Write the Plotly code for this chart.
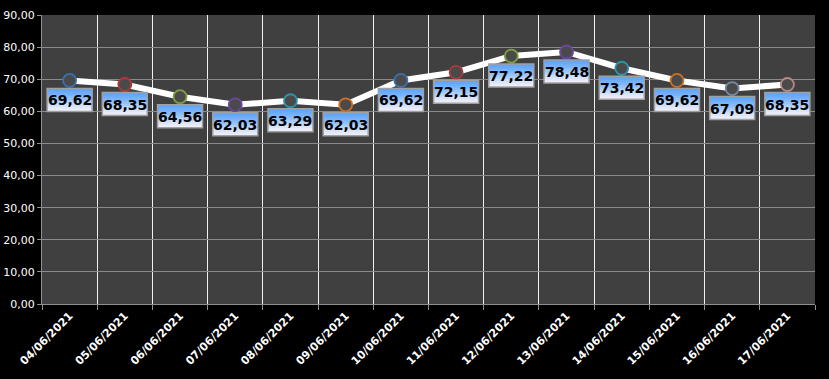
import plotly.graph_objects as go

dates = ["04/06/2021", "05/06/2021", "06/06/2021", "07/06/2021", "08/06/2021",
         "09/06/2021", "10/06/2021", "11/06/2021", "12/06/2021", "13/06/2021",
         "14/06/2021", "15/06/2021", "16/06/2021", "17/06/2021"]
values = [69.62, 68.35, 64.56, 62.03, 63.29, 62.03, 69.62, 72.15, 77.22, 78.48,
          73.42, 69.62, 67.09, 68.35]
marker_colors = ["#3a70b0", "#b03838", "#80a040", "#6a48a0", "#2c94aa", "#d07020",
                 "#3a70b0", "#b03838", "#80a040", "#6a48a0", "#2c94aa", "#d07020",
                 "#7888a8", "#b88888"]
y_ticks = [0, 10, 20, 30, 40, 50, 60, 70, 80, 90]

xs = list(range(len(dates)))

fig = go.Figure()
fig.add_trace(go.Scatter(
    x=xs, y=values, mode="lines",
    line=dict(color="white", width=6),
    hoverinfo="skip", showlegend=False,
))
fig.add_trace(go.Scatter(
    x=xs, y=values, mode="markers",
    marker=dict(size=13, color="#4a4a4a",
                line=dict(color=marker_colors, width=1.8)),
    showlegend=False,
))

# gradient label boxes
grad = ["#5ea4fa", "#66a9fa", "#70aefa", "#7bb4fa", "#88bbfa", "#96c3fa",
        "#a6cbf9", "#b7d4f9", "#c8ddf8", "#d8e4f8", "#e6eaf8", "#f0eef8"]
box_w = 45
box_top = 8
box_h = 23
strip = box_h / len(grad)
shapes = []
annotations = []
for x, v in zip(xs, values):
    for i, c in enumerate(grad):
        shapes.append(dict(
            type="rect", xref="x", yref="y",
            xsizemode="pixel", ysizemode="pixel",
            xanchor=x, yanchor=v,
            x0=-box_w / 2, x1=box_w / 2,
            y0=-(box_top + i * strip), y1=-(box_top + box_h),
            fillcolor=c, line=dict(width=0), layer="above",
        ))
    shapes.append(dict(
        type="rect", xref="x", yref="y",
        xsizemode="pixel", ysizemode="pixel",
        xanchor=x, yanchor=v,
        x0=-box_w / 2, x1=box_w / 2,
        y0=-box_top, y1=-(box_top + box_h),
        fillcolor="rgba(0,0,0,0)", line=dict(width=1.5, color="#a0a0a0"), layer="above",
    ))
    annotations.append(dict(
        x=x, y=v, xref="x", yref="y",
        text=f"{v:.2f}".replace(".", ","),
        showarrow=False, yshift=-(box_top + box_h / 2) - 0.5,
        font=dict(family="DejaVu Sans", size=14, color="black", weight="bold"),
    ))

fig.update_layout(
    width=829, height=379,
    margin=dict(l=42, r=14, t=15, b=75),
    paper_bgcolor="black", plot_bgcolor="#404040",
    separators=", ",
    shapes=shapes, annotations=annotations,
    xaxis=dict(
        range=[-0.5, len(dates) - 0.5], automargin=False,
        tickvals=xs, ticktext=dates, tickangle=-45,
        showgrid=False, zeroline=False,
        showline=True, linecolor="#909090", linewidth=1,
        ticks="", tickfont=dict(family="DejaVu Sans", size=11, color="white", weight="bold"),
        minor=dict(tick0=0.5, dtick=1, showgrid=True, gridcolor="#f0f0f0", gridwidth=1,
                   ticks="outside", ticklen=5, tickcolor="#909090"),
    ),
    yaxis=dict(
        range=[0, 90], tickvals=y_ticks, tickformat=".2f", automargin=False,
        showgrid=True, gridcolor="#8a8a8a", gridwidth=1, zeroline=False,
        showline=True, linecolor="#909090", linewidth=1,
        ticks="outside", ticklen=4, tickcolor="#909090",
        tickfont=dict(family="DejaVu Sans", size=11, color="white"),
    ),
)

fig.write_html(
    "out.html",
    config={"displayModeBar": False},
    post_script="document.body.style.margin='0';document.body.style.background='black';",
)
